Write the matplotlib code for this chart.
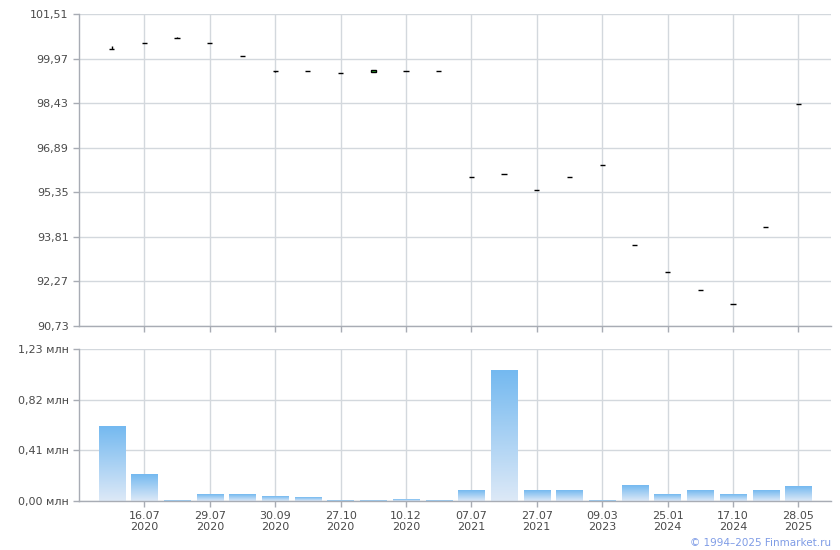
import matplotlib
matplotlib.use("Agg")
import matplotlib.pyplot as plt
import numpy as np
from matplotlib.colors import LinearSegmentedColormap

plt.rcParams['font.family'] = ['DejaVu Sans']

# ---- data ----
open_ = [100.31, 100.51, 100.68, 100.51, 100.05, 99.53, 99.54, 99.47, 99.49, 99.54, 99.54,
         95.87, 95.97, 95.42, 95.87, 96.28, 93.52, 92.59, 91.96, 91.48, 94.14, 98.39]
close = [100.30, 100.51, 100.68, 100.51, 100.05, 99.53, 99.54, 99.47, 99.57, 99.54, 99.54,
         95.87, 95.97, 95.42, 95.87, 96.28, 93.52, 92.59, 91.96, 91.48, 94.14, 98.39]
high = [100.42, 100.51, 100.73, 100.51, 100.05, 99.53, 99.54, 99.47, 99.57, 99.54, 99.54,
        95.87, 95.97, 95.42, 95.87, 96.28, 93.52, 92.59, 91.96, 91.48, 94.14, 98.39]
low = [100.30, 100.51, 100.68, 100.51, 100.05, 99.50, 99.54, 99.47, 99.49, 99.54, 99.54,
       95.87, 95.97, 95.42, 95.87, 96.28, 93.52, 92.59, 91.96, 91.48, 94.14, 98.39]
volume = [0.599, 0.218, 0.008, 0.049, 0.049, 0.040, 0.032, 0.008, 0.008, 0.016, 0.008,
          0.081, 1.052, 0.089, 0.089, 0.008, 0.129, 0.049, 0.081, 0.049, 0.081, 0.121]

price_ticks = [90.73, 92.27, 93.81, 95.35, 96.89, 98.43, 99.97, 101.51]
price_labels = ["90,73", "92,27", "93,81", "95,35", "96,89", "98,43", "99,97", "101,51"]
vol_ticks = [0.0, 0.41, 0.82, 1.23]
vol_labels = ["0,00 млн", "0,41 млн", "0,82 млн", "1,23 млн"]
date_tick_idx = [1, 3, 5, 7, 9, 11, 13, 15, 17, 19, 21]
date_labels = ["16.07\n2020", "29.07\n2020", "30.09\n2020", "27.10\n2020", "10.12\n2020",
               "07.07\n2021", "27.07\n2021", "09.03\n2023", "25.01\n2024", "17.10\n2024",
               "28.05\n2025"]

# ---- styles ----
grid_c = "#d3d8dd"
spine_c = "#a8acb4"
text_c = "#4a4a4a"

fig = plt.figure(figsize=(8.4, 5.5), dpi=100)
ax1 = fig.add_axes([79/840, 1-326/550, 752/840, 312/550])
ax2 = fig.add_axes([79/840, 1-501/550, 752/840, 152/550])

x = np.arange(len(open_))

for ax in (ax1, ax2):
    ax.set_xlim(-1, len(open_))
    for s in ("top", "right"):
        ax.spines[s].set_visible(False)
    for s in ("left", "bottom"):
        ax.spines[s].set_color(spine_c)
        ax.spines[s].set_linewidth(1)
    ax.grid(True, color=grid_c, linewidth=1)
    ax.set_axisbelow(True)
    ax.tick_params(colors=spine_c, labelcolor=text_c, labelsize=8, length=4, width=1)
    ax.set_xticks(date_tick_idx)

# candles
ax1.set_ylim(price_ticks[0], price_ticks[-1])
ax1.set_yticks(price_ticks)
ax1.set_yticklabels(price_labels)
ax1.set_xticklabels([])
ax1.vlines(x, low, high, color="black", linewidth=1, zorder=3)
for i in range(len(x)):
    o, c = open_[i], close[i]
    fc = "#33cc33" if c > o else "black"
    ax1.bar(x[i], c - o if c != o else 0.0, bottom=o, width=0.16,
            facecolor=fc, edgecolor="black", linewidth=1.0, zorder=4)

# volume bars with vertical gradient
ax2.set_ylim(0, vol_ticks[-1])
ax2.set_yticks(vol_ticks)
ax2.set_yticklabels(vol_labels)
ax2.set_xticklabels(date_labels, linespacing=1.05)
cmap = LinearSegmentedColormap.from_list("g", ["#dde9f7", "#74b9f0"])
grad = np.linspace(0, 1, 256).reshape(-1, 1)
w = 0.8
for i in range(len(x)):
    ax2.imshow(grad, extent=[x[i] - w/2, x[i] + w/2, 0, volume[i]], origin="lower",
               cmap=cmap, aspect="auto", zorder=2)
ax2.set_xlim(-1, len(open_))
ax2.set_ylim(0, vol_ticks[-1])

fig.text(831/840, 1-543/550, "© 1994–2025 Finmarket.ru", color="#7f9ce6",
         fontsize=7.5, ha="right", va="center")

fig.savefig("out.png", dpi=100)
